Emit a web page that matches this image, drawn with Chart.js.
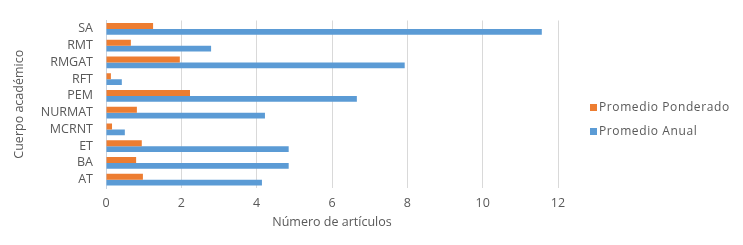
<!DOCTYPE html>
<html>
<head>
<meta charset="utf-8">
<script src="https://cdn.jsdelivr.net/npm/chart.js@4"></script>
<style>
  html, body { margin: 0; padding: 0; background: #fff; }
  #wrap { position: relative; width: 743px; height: 245px; }
  #legend { position: absolute; left: 590px; top: 98px; font: 12px "Open Sans", sans-serif; color: #595959; letter-spacing: 0.6px; }
  #legend div { height: 24px; line-height: 18px; white-space: nowrap; }
  #legend span { display: inline-block; width: 7px; height: 7px; margin-right: 2px; vertical-align: 0px; }
</style>
</head>
<body>
<div id="wrap">
  <canvas id="chart" width="743" height="245"></canvas>
  <div id="legend"></div>
</div>
<script>
// Artículos por cuerpo académico: promedio ponderado vs promedio anual.
const categories = ['SA', 'RMT', 'RMGAT', 'RFT', 'PEM', 'NURMAT', 'MCRNT', 'ET', 'BA', 'AT'];
const ponderado = [1.25, 0.66, 1.96, 0.13, 2.23, 0.82, 0.16, 0.95, 0.8, 0.98];
const anual = [11.57, 2.79, 7.93, 0.42, 6.66, 4.22, 0.5, 4.85, 4.85, 4.14];
const xTicks = [0, 2, 4, 6, 8, 10, 12];

const ORANGE = '#ED7D31';
const BLUE = '#5B9BD5';
const TEXT = '#595959';
const FONT = { family: '"Open Sans", sans-serif', size: 12.5 };

const SERIES = [
  { label: 'Promedio Ponderado', data: ponderado, color: ORANGE },
  { label: 'Promedio Anual', data: anual, color: BLUE },
];

new Chart(document.getElementById('chart'), {
  type: 'bar',
  data: {
    labels: categories,
    datasets: SERIES.map((s) => ({
      label: s.label,
      data: s.data,
      backgroundColor: s.color,
      borderWidth: 0,
      categoryPercentage: 0.7,
      barPercentage: 1,
    })),
  },
  options: {
    indexAxis: 'y',
    responsive: false,
    animation: false,
    layout: { padding: { left: 8, top: 5, right: 185, bottom: 11 } },
    scales: {
      x: {
        min: 0,
        max: 12,
        afterBuildTicks: (scale) => { scale.ticks = xTicks.map((v) => ({ value: v })); },
        afterFit: (scale) => { scale.height = 46; },
        grid: { color: '#d9d9d9', drawTicks: false },
        border: { display: false },
        ticks: { color: TEXT, font: FONT, padding: 8 },
        title: { display: true, text: 'Número de artículos', color: TEXT, font: FONT, padding: 4 },
      },
      y: {
        afterFit: (scale) => { scale.width = 98; },
        grid: { display: false, drawTicks: false },
        border: { display: true, color: '#c8d3e0' },
        ticks: { color: TEXT, font: FONT, padding: 13, autoSkip: false },
        title: { display: true, text: 'Cuerpo académico', color: TEXT, font: FONT, padding: 4 },
      },
    },
    plugins: {
      legend: { display: false },
      tooltip: { enabled: false },
    },
  },
});

document.getElementById('legend').innerHTML = SERIES.map(
  (s) => `<div><span style="background:${s.color}"></span>${s.label}</div>`
).join('');
</script>
</body>
</html>
